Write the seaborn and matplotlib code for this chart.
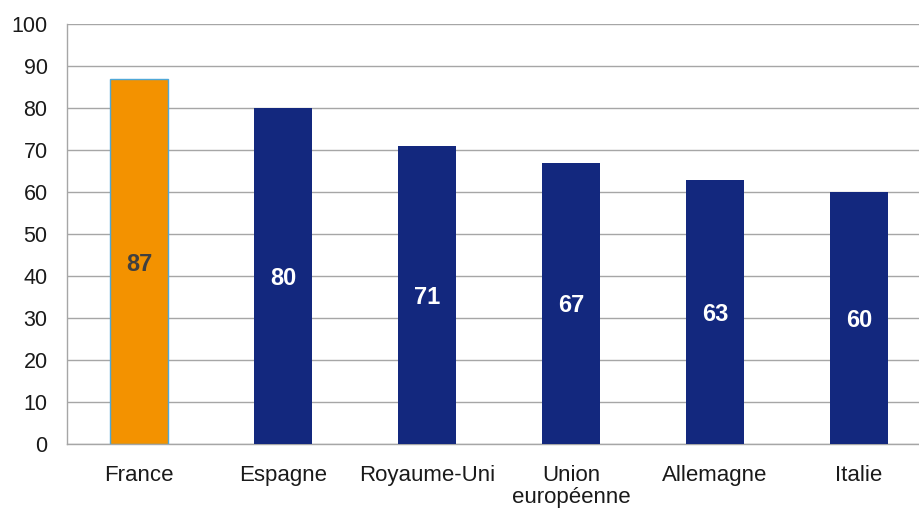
import matplotlib
matplotlib.use("Agg")
import matplotlib.pyplot as plt
import numpy as np
import pandas as pd
import seaborn as sns

# Data
pays = ["France", "Espagne", "Royaume-Uni", "Union\neuropéenne", "Allemagne", "Italie"]
valeurs = [87, 80, 71, 67, 63, 60]
couleurs = ["#F39200", "#13287E", "#13287E", "#13287E", "#13287E", "#13287E"]
label_couleurs = ["#404040", "white", "white", "white", "white", "white"]

sns.set_style("white")
plt.rcParams["font.family"] = ["Liberation Sans", "DejaVu Sans"]

df = pd.DataFrame({"pays": pays, "valeur": valeurs})

fig = plt.figure(figsize=(9.19, 5.09), dpi=100)
ax = fig.add_axes([0.0729, 0.1277, 1.0131 - 0.0729, 0.9519 - 0.1277])

sns.barplot(
    data=df,
    x="pays",
    y="valeur",
    hue="pays",
    palette=couleurs,
    saturation=1,
    width=0.4,
    legend=False,
    ax=ax,
    zorder=3,
)

# France bar has a thin light-blue outline
for i, patch in enumerate(ax.patches):
    if i == 0:
        patch.set_edgecolor("#4FA8D8")
        patch.set_linewidth(1.0)
    else:
        patch.set_edgecolor("none")

for i, v in enumerate(valeurs):
    ax.text(i, v / 2, str(v), ha="center", va="center_baseline", fontsize=17,
            fontweight="bold", color=label_couleurs[i], zorder=4)

ax.set_ylim(0, 100)
ax.set_xlim(-0.5, len(pays) - 0.5)
ax.set_yticks(np.arange(0, 101, 10))
ax.yaxis.grid(True, color="#A6A6A6", linewidth=1.0, zorder=0)
ax.set_axisbelow(True)

ax.set_xlabel("")
ax.set_ylabel("")
ax.set_xticks(range(len(pays)))
ax.set_xticklabels(pays, fontsize=16, color="#1A1A1A", va="top", linespacing=1.1)
ax.set_xticks(np.arange(-0.5, len(pays), 1), minor=True)
ax.tick_params(axis="x", which="major", length=0, pad=15)
ax.tick_params(axis="x", which="minor", length=6, width=1, color="#A6A6A6", direction="out")
ax.tick_params(axis="y", length=7, width=1, color="#A6A6A6", direction="out",
               labelsize=15.5, labelcolor="#1A1A1A", pad=7)

for side in ["top", "right"]:
    ax.spines[side].set_visible(False)
for side in ["left", "bottom"]:
    ax.spines[side].set_color("#A6A6A6")
    ax.spines[side].set_linewidth(1.0)

fig.savefig("out.png", dpi=100)
